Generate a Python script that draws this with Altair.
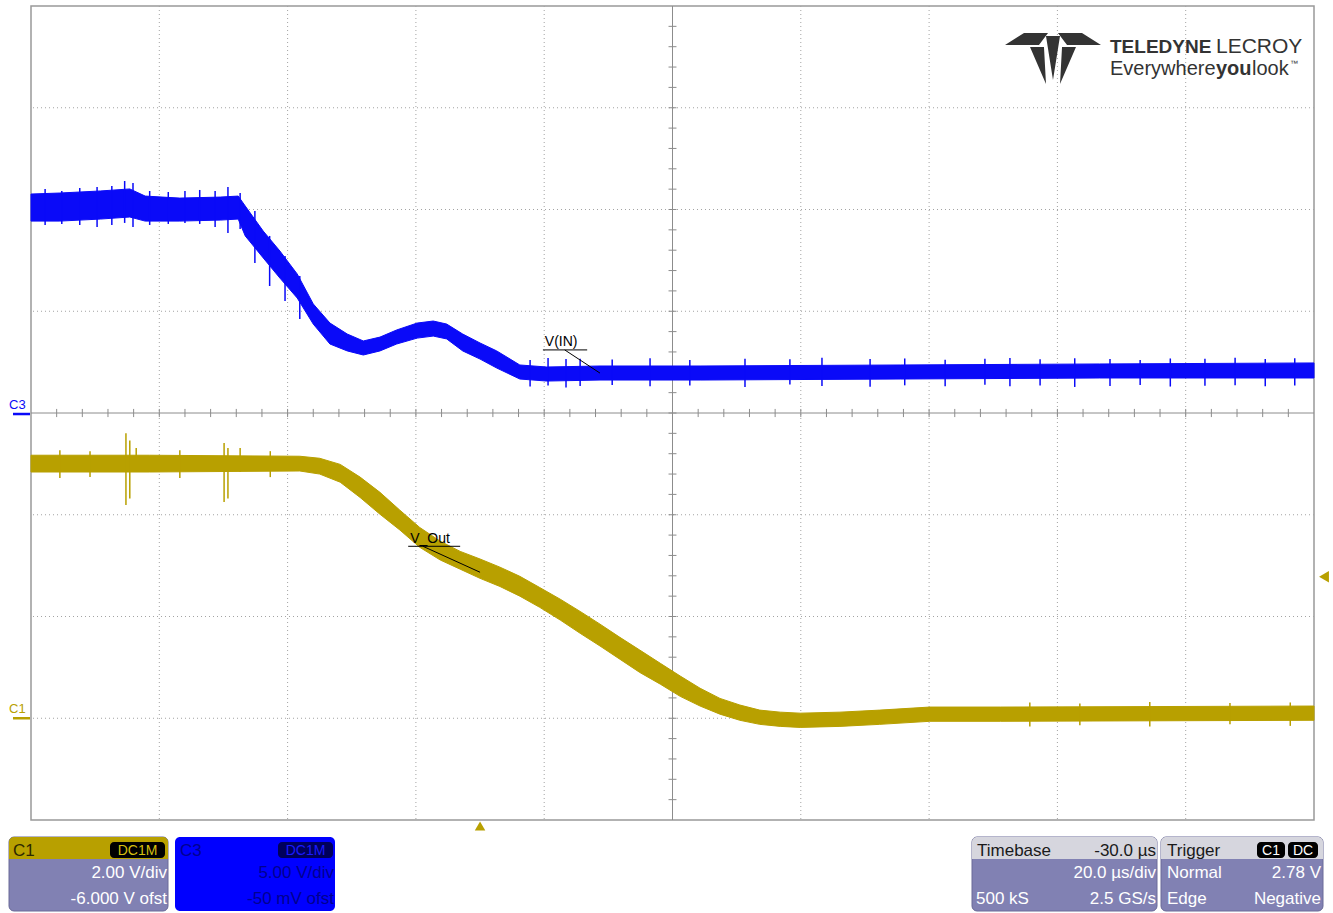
import altair as alt
import pandas as pd

# ---- scope settings (channel / timebase panels) ----
C1_VDIV, C1_OFST = 2.0, -6.0       # V_Out : V/div, offset (V)
C3_VDIV, C3_OFST = 5.0, -0.05      # V(IN) : V/div, offset (V)
TIME_PER_DIV = 20.0                # us/div
T_START = -70.0                    # left edge of the screen in us (trigger at 0, delay -30 us)
N_XDIV, N_YDIV = 10, 8
TRIG_LEVEL = 2.78                  # V on C1, negative edge

# ---- V(IN) on C3: lower / upper envelope of the noisy trace (us, V) ----
vin_t = [-70.0, -65.5, -59.2, -54.6, -52.2, -46.8, -40.5, -37.7, -36.6, -33.8, -31.2, -28.5,
         -26.0, -23.4, -20.7, -18.2, -15.6, -13.0, -9.8, -7.3, -5.2, -2.7, 0.0, 2.6, 6.2,
         10.4, 18.7, 34.3, 65.5, 96.6, 130.0]
vin_lo = [9.48, 9.48, 9.58, 9.68, 9.48, 9.48, 9.53, 9.58, 8.75, 7.67, 6.68, 5.70,
          4.42, 3.44, 3.10, 2.90, 3.10, 3.44, 3.73, 3.83, 3.69, 3.10, 2.70, 2.26, 1.72,
          1.62, 1.67, 1.67, 1.72, 1.77, 1.77]
vin_hi = [10.81, 10.86, 10.96, 11.06, 10.71, 10.61, 10.66, 10.71, 10.22, 8.99, 8.01, 6.88,
          5.41, 4.47, 3.93, 3.59, 3.78, 4.13, 4.47, 4.57, 4.42, 3.93, 3.49, 3.10, 2.41,
          2.31, 2.36, 2.36, 2.41, 2.46, 2.51]

# glitches on V(IN)
vin_spike_t = [-67.8, -65.2, -62.4, -59.7, -57.4, -55.4, -54.1, -51.5, -48.6, -46.0, -43.7, -41.3, -39.3, -37.4,
               -35.1, -32.8, -30.4, -28.1,
               7.8, 10.6, 13.4, 15.6, 20.6, 26.5, 32.7, 41.3, 48.3, 53.3, 60.8, 66.2, 72.5, 78.7,
               82.6, 87.3, 92.7, 98.2, 102.9, 107.6, 113.0, 117.7, 122.4, 127.0]
vin_spike_lo = [9.29, 9.34, 9.29, 9.19, 9.29, 9.39, 9.19, 9.29, 9.34, 9.39, 9.34, 9.19, 8.89, 9.09,
                7.42, 6.29, 5.55, 4.67,
                1.35, 1.40, 1.30, 1.38, 1.42, 1.36, 1.40, 1.33, 1.45, 1.38, 1.34, 1.41, 1.37, 1.44,
                1.36, 1.40, 1.33, 1.38, 1.42, 1.35, 1.39, 1.41, 1.36, 1.40]
vin_spike_hi = [11.06, 10.96, 11.11, 11.15, 11.20, 11.45, 11.35, 10.96, 10.91, 10.96, 11.01, 10.96, 11.15, 10.86,
                9.98, 8.75, 7.76, 6.78,
                2.65, 2.75, 2.70, 2.72, 2.68, 2.74, 2.66, 2.71, 2.69, 2.76, 2.70, 2.73, 2.67, 2.72,
                2.75, 2.69, 2.74, 2.70, 2.66, 2.73, 2.71, 2.76, 2.70, 2.74]

# ---- V_Out on C1: lower / upper envelope (us, V) ----
vout_t = [-70.0, -51.5, -28.1, -25.0, -21.8, -18.7, -15.6, -12.5, -9.4, -6.2, -3.1, 0.0, 3.1, 6.2,
          9.3, 12.5, 15.6, 18.7, 21.8, 24.9, 28.1, 31.2, 34.3, 37.4, 40.5, 43.6, 46.8, 49.9,
          56.1, 62.3, 70.1, 81.1, 130.0]
vout_lo = [4.84, 4.84, 4.86, 4.80, 4.64, 4.34, 4.01, 3.70, 3.36, 3.11, 2.93, 2.75, 2.59, 2.40,
           2.18, 1.93, 1.67, 1.42, 1.16, 0.90, 0.67, 0.43, 0.24, 0.08, -0.04, -0.12, -0.16, -0.18,
           -0.16, -0.12, -0.06, -0.06, -0.04]
vout_hi = [5.17, 5.17, 5.15, 5.11, 4.99, 4.74, 4.44, 4.09, 3.75, 3.48, 3.28, 3.13, 2.97, 2.79,
           2.57, 2.34, 2.10, 1.85, 1.59, 1.34, 1.08, 0.83, 0.59, 0.39, 0.26, 0.16, 0.12, 0.10,
           0.12, 0.16, 0.22, 0.22, 0.24]

vout_spike_t = [-65.5, -60.8, -55.2, -54.6, -53.6, -46.8, -39.9, -39.3, -37.4, -32.7,
                85.7, 93.5, 104.4, 116.9, 126.3]
vout_spike_lo = [4.72, 4.74, 4.19, 4.32, 4.87, 4.72, 4.25, 4.32, 4.84, 4.74,
                 -0.16, -0.14, -0.16, -0.12, -0.15]
vout_spike_hi = [5.27, 5.25, 5.60, 5.46, 5.31, 5.27, 5.41, 5.31, 5.31, 5.25,
                 0.31, 0.29, 0.32, 0.30, 0.31]

# ---- trace labels: text anchor, underline and pointer (us, V on own channel) ----
vin_label = {"text": "V(IN)", "t": 10.1, "v": 3.34, "ul": (9.8, 16.7, 3.15), "ptr": ((13.2, 3.15), (18.7, 2.01))}
vout_label = {"text": "V_Out", "t": -10.9, "v": 3.44, "ul": (-11.2, -3.1, 3.38), "ptr": ((-8.9, 3.38), (0.0, 2.87))}

# ---- colours ----
BLUE = "#0a0af8"
GOLD = "#b8a000"
PANEL = "#8181b3"
HEADER = "#d6d6de"
GRID = "#a3a3a3"
AXIS = "#8c8c8c"
FONT = "Liberation Sans"

W, H = 1283, 814
xs = alt.Scale(domain=[T_START, T_START + N_XDIV * TIME_PER_DIV], nice=False, zero=False)
ys = alt.Scale(domain=[-N_YDIV / 2, N_YDIV / 2], nice=False, zero=False)


def X(f="t"):
    return alt.X(f"{f}:Q", scale=xs, axis=None)


def Y(f="d"):
    return alt.Y(f"{f}:Q", scale=ys, axis=None)


def to_div(v, vdiv, ofst):
    return (v + ofst) / vdiv


def band_df(t, lo, hi, vdiv, ofst):
    return pd.DataFrame({"t": t,
                         "d": [to_div(v, vdiv, ofst) for v in lo],
                         "d2": [to_div(v, vdiv, ofst) for v in hi]})


ONE = pd.DataFrame({"k": [0]})
layers = []

# ---- graticule ----
grid_t = [T_START + i * TIME_PER_DIV for i in range(1, N_XDIV) if i != N_XDIV // 2]
grid_d = [i for i in range(-N_YDIV // 2 + 1, N_YDIV // 2) if i != 0]
t_center = T_START + N_XDIV / 2 * TIME_PER_DIV

layers.append(alt.Chart(pd.DataFrame({"t": grid_t})).mark_rule(color=GRID, strokeDash=[1, 3], strokeWidth=1)
              .encode(x=X()))
layers.append(alt.Chart(pd.DataFrame({"d": grid_d})).mark_rule(color=GRID, strokeDash=[1, 3], strokeWidth=1)
              .encode(y=Y()))
layers.append(alt.Chart(pd.DataFrame({"t": [t_center]})).mark_rule(color=AXIS, strokeWidth=1).encode(x=X()))
layers.append(alt.Chart(pd.DataFrame({"d": [0.0]})).mark_rule(color=AXIS, strokeWidth=1).encode(y=Y()))

# minor ticks along the centre cross (5 per division)
tick_t = [T_START + i * TIME_PER_DIV / 5 for i in range(1, N_XDIV * 5)]
tick_d = [-N_YDIV / 2 + i * 0.2 for i in range(1, N_YDIV * 5)]
tx = pd.DataFrame({"t": tick_t, "d": [-0.04] * len(tick_t), "d2": [0.04] * len(tick_t)})
ty = pd.DataFrame({"d": tick_d, "t": [t_center - 0.62] * len(tick_d), "t2": [t_center + 0.62] * len(tick_d)})
layers.append(alt.Chart(tx).mark_rule(color=AXIS, strokeWidth=1).encode(x=X(), y=Y(), y2="d2:Q"))
layers.append(alt.Chart(ty).mark_rule(color=AXIS, strokeWidth=1).encode(y=Y(), x=X(), x2="t2:Q"))

# ---- logo ----
LOGO_PATH = ("M-1.0,-0.271L-0.604,-0.521L-0.104,-0.521L-0.292,-0.271Z "
             "M1.0,-0.271L0.604,-0.521L0.104,-0.521L0.292,-0.271Z "
             "M-0.146,-0.458L0.146,-0.458L0,0.458Z "
             "M-0.479,-0.229L-0.188,-0.229L-0.146,0.542Z "
             "M0.479,-0.229L0.188,-0.229L0.146,0.542Z")
layers.append(alt.Chart(ONE).mark_point(shape=LOGO_PATH, filled=True, color="#333333", size=9216, opacity=1)
              .encode(x=alt.value(1022), y=alt.value(52)))


def txt(s, x, y, size=17, color="black", align="left", weight="normal", font=FONT):
    return alt.Chart(pd.DataFrame({"s": [s]})).mark_text(
        align=align, baseline="alphabetic", fontSize=size, color=color, fontWeight=weight, font=font
    ).encode(x=alt.value(x), y=alt.value(y), text="s:N")


LOGO_INK = "#333333"
layers += [
    txt("TELEDYNE", 1079, 47, size=19, color=LOGO_INK, weight="bold"),
    txt("LECROY", 1185, 47, size=21, color=LOGO_INK),
    txt("Everywhere", 1079, 69, size=20, color=LOGO_INK),
    txt("you", 1185, 69, size=20, color=LOGO_INK, weight="bold"),
    txt("look", 1221, 69, size=20, color=LOGO_INK),
    txt("\u2122", 1259, 60, size=8, color=LOGO_INK),
]

# ---- traces ----
vin = band_df(vin_t, vin_lo, vin_hi, C3_VDIV, C3_OFST)
vout = band_df(vout_t, vout_lo, vout_hi, C1_VDIV, C1_OFST)
vin_sp = band_df(vin_spike_t, vin_spike_lo, vin_spike_hi, C3_VDIV, C3_OFST)
vout_sp = band_df(vout_spike_t, vout_spike_lo, vout_spike_hi, C1_VDIV, C1_OFST)

for df, sp, col in [(vin, vin_sp, BLUE), (vout, vout_sp, GOLD)]:
    layers.append(alt.Chart(df).mark_area(color=col, opacity=1, stroke=col, strokeWidth=1)
                  .encode(x=X(), y=Y("d"), y2="d2:Q"))
    layers.append(alt.Chart(sp).mark_rule(color=col, strokeWidth=1.5)
                  .encode(x=X(), y=Y("d"), y2="d2:Q"))

# ---- trace labels ----
for lab, vdiv, ofst in [(vin_label, C3_VDIV, C3_OFST), (vout_label, C1_VDIV, C1_OFST)]:
    layers.append(alt.Chart(pd.DataFrame({"t": [lab["t"]], "d": [to_div(lab["v"], vdiv, ofst)],
                                          "s": [lab["text"]]}))
                  .mark_text(align="left", baseline="alphabetic", fontSize=14, font=FONT, color="black")
                  .encode(x=X(), y=Y(), text="s:N"))
    t1, t2, v = lab["ul"]
    (pa, va), (pb, vb) = lab["ptr"]
    segs = pd.DataFrame({"t": [t1, pa], "t2": [t2, pb],
                         "d": [to_div(v, vdiv, ofst), to_div(va, vdiv, ofst)],
                         "d2": [to_div(v, vdiv, ofst), to_div(vb, vdiv, ofst)]})
    layers.append(alt.Chart(segs).mark_rule(color="black", strokeWidth=1)
                  .encode(x=X(), x2="t2:Q", y=Y(), y2="d2:Q"))

# ---- channel ground markers on the left edge ----
for name, col, vdiv, ofst in [("C3", BLUE, C3_VDIV, C3_OFST), ("C1", GOLD, C1_VDIV, C1_OFST)]:
    g = pd.DataFrame({"d": [to_div(0, vdiv, ofst)], "name": [name]})
    layers.append(alt.Chart(g).mark_rule(color=col, strokeWidth=2.5)
                  .encode(y=Y(), x=alt.value(-18), x2=alt.value(-1)))
    layers.append(alt.Chart(g).mark_text(align="left", baseline="alphabetic", fontSize=13, font=FONT,
                                         color=col, dy=-5)
                  .encode(y=Y(), x=alt.value(-22), text="name:N"))

# ---- trigger markers ----
layers.append(alt.Chart(pd.DataFrame({"d": [to_div(TRIG_LEVEL, C1_VDIV, C1_OFST)]}))
              .mark_point(shape="triangle-left", filled=True, color=GOLD, size=130, opacity=1)
              .encode(y=Y(), x=alt.value(W + 10)))
layers.append(alt.Chart(pd.DataFrame({"t": [0.0]}))
              .mark_point(shape="triangle-up", filled=True, color=GOLD, size=110, opacity=1)
              .encode(x=X(), y=alt.value(H + 6)))


# ---- info panels under the screen ----
def rect(x1, y1, x2, y2, color, **kw):
    return alt.Chart(ONE).mark_rect(color=color, **kw).encode(
        x=alt.value(x1), x2=alt.value(x2), y=alt.value(y1), y2=alt.value(y2))


def badge(x1, x2, s, fg, bg="black"):
    return [rect(x1, 836, x2, 852, bg, cornerRadius=4),
            txt(s, (x1 + x2) / 2, 849, size=14, color=fg, align="center")]


PT, PH, PB = 831, 853, 905
# C1
layers += [rect(-22, PT, 137, PB, PANEL, cornerRadius=5, stroke="#6a6a98", strokeWidth=1),
           rect(-22, PT, 137, PH, GOLD, cornerRadiusTopLeft=5, cornerRadiusTopRight=5),
           txt("C1", -18, 850, color="#2e2800")]
layers += badge(79, 134, "DC1M", "#d4bf10")
layers += [txt(f"{C1_VDIV:.2f} V/div", 136, 872, color="white", align="right"),
           txt(f"{C1_OFST:.3f} V ofst", 136, 898, color="white", align="right")]
# C3
NAVY = "#000090"
layers += [rect(144, PT, 304, PB, "#0000ff", cornerRadius=5),
           txt("C3", 149, 850, color=NAVY)]
layers += badge(247, 302, "DC1M", "#1a1aff", bg="#00005a")
layers += [txt(f"{C3_VDIV:.2f} V/div", 303, 872, color=NAVY, align="right"),
           txt(f"{C3_OFST * 1000:.0f} mV ofst", 303, 898, color=NAVY, align="right")]
# Timebase
layers += [rect(941, PT, 1126, PB, PANEL, cornerRadius=5, stroke="#6a6a98", strokeWidth=1),
           rect(941, PT, 1126, PH, HEADER, cornerRadiusTopLeft=5, cornerRadiusTopRight=5),
           txt("Timebase", 946, 850, color="#1a1a1a"),
           txt("-30.0 \u00b5s", 1125, 850, color="#1a1a1a", align="right"),
           txt(f"{TIME_PER_DIV:.1f} \u00b5s/div", 1125, 872, color="white", align="right"),
           txt("500 kS", 945, 898, color="white"),
           txt("2.5 GS/s", 1125, 898, color="white", align="right")]
# Trigger
layers += [rect(1130, PT, 1292, PB, PANEL, cornerRadius=5, stroke="#6a6a98", strokeWidth=1),
           rect(1130, PT, 1292, PH, HEADER, cornerRadiusTopLeft=5, cornerRadiusTopRight=5),
           txt("Trigger", 1136, 850, color="#1a1a1a")]
layers += badge(1226, 1254, "C1", "white") + badge(1257, 1287, "DC", "white")
layers += [txt("Normal", 1136, 872, color="white"),
           txt(f"{TRIG_LEVEL:.2f} V", 1290, 872, color="white", align="right"),
           txt("Edge", 1136, 898, color="white"),
           txt("Negative", 1290, 898, color="white", align="right")]

chart = (alt.layer(*layers)
         .properties(width=W, height=H, background="white",
                     padding={"left": 31, "top": 6, "right": 19, "bottom": 93},
                     autosize=alt.AutoSizeParams(type="none"))
         .configure_view(stroke="#999999", strokeWidth=1.5))

chart.save("out.html", embed_options={"renderer": "svg", "actions": False})
